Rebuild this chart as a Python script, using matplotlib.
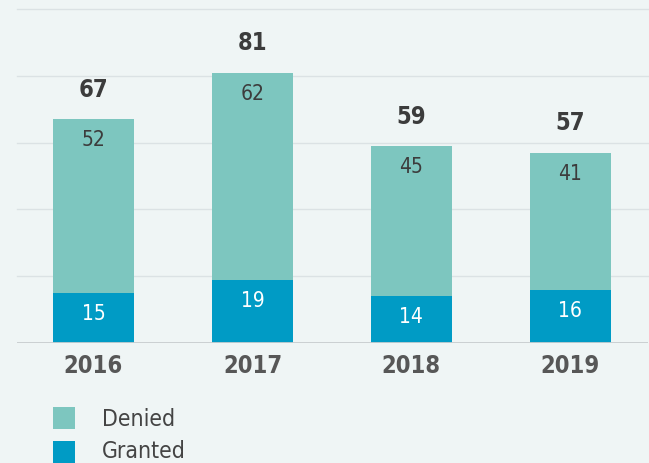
import matplotlib
matplotlib.use("Agg")
import matplotlib.pyplot as plt
from matplotlib.patches import Rectangle

years = ["2016", "2017", "2018", "2019"]
granted = [15, 19, 14, 16]
denied = [52, 62, 45, 41]
totals = [67, 81, 59, 57]
series_names = ["Denied", "Granted"]

c_denied = "#7dc6bf"
c_granted = "#009bc5"
bg = "#eff5f5"
dark = "#3c3c3c"

plt.rcParams["font.family"] = "DejaVu Sans"
plt.rcParams["font.stretch"] = "condensed"

W, H = 649, 463
fig = plt.figure(figsize=(W / 100, H / 100), dpi=100, facecolor=bg)
ax = fig.add_axes([17.3 / W, (H - 343) / H, (648 - 17.3) / W, (343 - 9.2) / H])
ax.set_facecolor(bg)

x = list(range(len(years)))
w = 0.512
ax.bar(x, granted, width=w, color=c_granted, zorder=3)
ax.bar(x, denied, width=w, bottom=granted, color=c_denied, zorder=3)

ax.set_xlim(-0.479, 3.488)
ax.set_ylim(0, 100)
for v in [20, 40, 60, 80, 100]:
    ax.axhline(v, color="#dbe2e4", lw=1, zorder=1, clip_on=False)
ax.axhline(0, color="#c8cdcf", lw=1.3, zorder=4)
for s in ax.spines.values():
    s.set_visible(False)
ax.set_yticks([])
ax.set_xticks(x)
ax.set_xticklabels(years, fontsize=17, fontweight="bold", color="#575757")
ax.tick_params(axis="x", length=0, pad=8)

for i in x:
    ax.annotate(str(granted[i]), (i, granted[i]), xytext=(0, -21), textcoords="offset pixels",
                ha="center", va="center", fontsize=15, color="white", zorder=5)
    top = granted[i] + denied[i]
    ax.annotate(str(denied[i]), (i, top), xytext=(0, -21), textcoords="offset pixels",
                ha="center", va="center", fontsize=15, color=dark, zorder=5)
    ax.annotate(str(totals[i]), (i, top), xytext=(0, 29.5), textcoords="offset pixels",
                ha="center", va="center", fontsize=17, fontweight="bold", color=dark, zorder=5)

# legend
for name, col, yc, dy in [(series_names[0], c_denied, 418, 1.0), (series_names[1], c_granted, 452, 0.0)]:
    fig.patches.append(Rectangle((52.7 / W, (H - yc - 11) / H), 22.3 / W, 22 / H,
                                 transform=fig.transFigure, facecolor=col, edgecolor="none"))
    fig.text(101.5 / W, (H - yc - dy) / H, name, fontsize=16.5, color="#444444", va="center", ha="left")

fig.savefig("out.png", facecolor=bg)
